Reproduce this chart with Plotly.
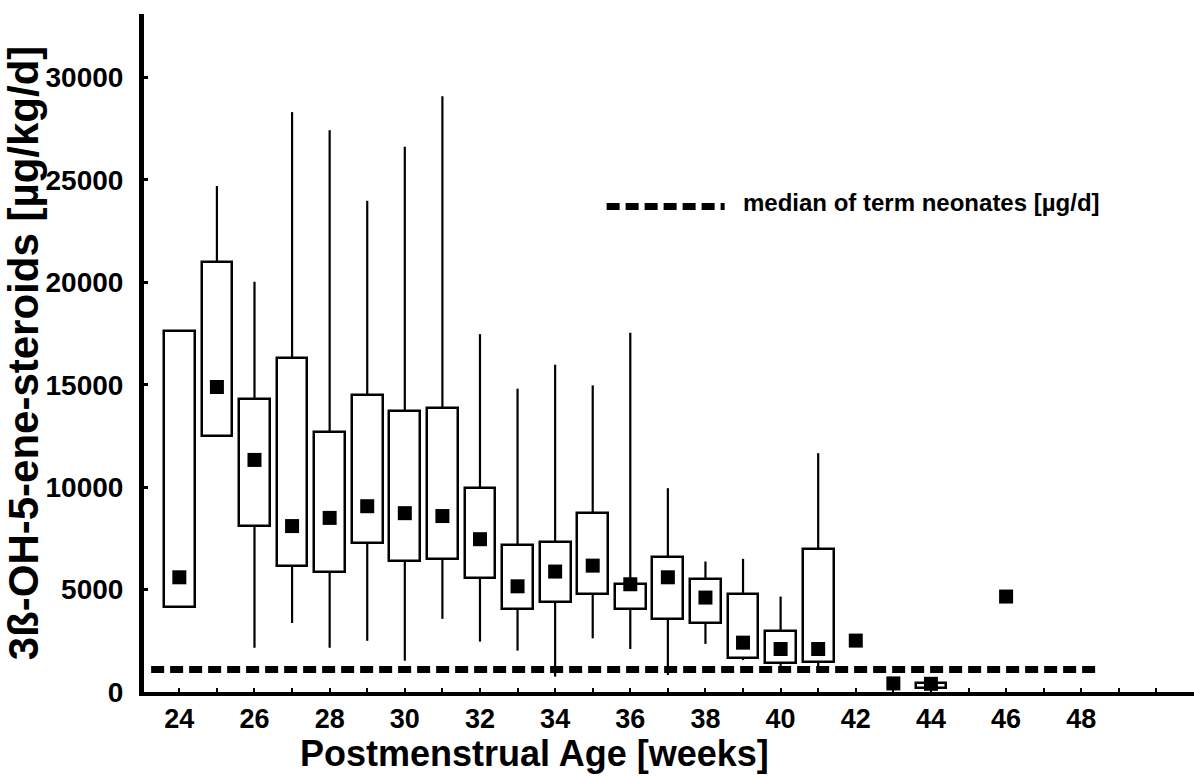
import plotly.graph_objects as go

# Postmenstrual age (weeks) for which a box (25th-75th percentile) is drawn
box_weeks = [24, 25, 26, 27, 28, 29, 30, 31, 32, 33, 34, 35, 36, 37, 38, 39, 40, 41, 44]
q1 = [4150, 12500, 8080, 6170, 5870, 7280, 6410, 6510, 5580, 4050, 4380, 4770, 4060, 3550, 3390, 1650, 1400, 1480, 200]
q3 = [17630, 21000, 14290, 16300, 12700, 14510, 13720, 13860, 9940, 7160, 7320, 8760, 5280, 6580, 5540, 4770, 2980, 6970, 430]
whisker_low = [None, None, 2160, 3370, 2160, 2500, 1530, 3570, 2460, 2020, 750, 2620, 2100, 830, 2350, 1560, 1270, 1080, None]
whisker_high = [None, 24700, 20030, 28310, 27420, 23980, 26620, 29090, 17470, 14810, 15980, 14970, 17540, 9950, 6370, 6500, 4660, 11660, None]

# Medians (filled squares)
median_weeks = [24, 25, 26, 27, 28, 29, 30, 31, 32, 33, 34, 35, 36, 37, 38, 39, 40, 41, 42, 43, 44, 46]
medians = [5600, 14890, 11330, 8100, 8500, 9070, 8730, 8590, 7460, 5160, 5880, 6170, 5260, 5600, 4610, 2410, 2100, 2100, 2510, 420, 400, 4660]

# Median of term neonates (reference line)
term_median = 1100
term_span = [23.25, 48.5]
legend_label = "median of term neonates [µg/d]"

x_tick_vals = list(range(24, 49, 2))
y_tick_vals = [0, 5000, 10000, 15000, 20000, 25000, 30000]

FONT = "Liberation Sans, Arial, sans-serif"
DASH = "13px,6px"

fig = go.Figure()

# whisker segments
wx, wy = [], []
for w, lo, hi, a, b in zip(box_weeks, whisker_low, whisker_high, q1, q3):
    if lo is not None:
        wx += [w, w, None]
        wy += [lo, a, None]
    if hi is not None:
        wx += [w, w, None]
        wy += [b, hi, None]
fig.add_trace(go.Scatter(x=wx, y=wy, mode="lines", line=dict(color="black", width=2.2),
                         hoverinfo="skip", showlegend=False))

# interquartile boxes
fig.add_trace(go.Bar(x=box_weeks, base=q1, y=[b - a for a, b in zip(q1, q3)], width=0.82,
                     marker=dict(color="white", line=dict(color="black", width=2.5)),
                     showlegend=False))

# reference line of term neonates
fig.add_trace(go.Scatter(x=term_span, y=[term_median, term_median], mode="lines",
                         line=dict(color="black", width=7, dash=DASH), showlegend=False))

# medians
fig.add_trace(go.Scatter(x=median_weeks, y=medians, mode="markers",
                         marker=dict(symbol="square", size=14, color="black"),
                         showlegend=False))

# legend sample
fig.add_trace(go.Scatter(x=[35.37, 38.51], y=[23700, 23700], mode="lines",
                         line=dict(color="black", width=7, dash=DASH), showlegend=False))
fig.add_annotation(x=38.95, y=23900, text=f"<b>{legend_label}</b>", showarrow=False,
                   xanchor="left", yanchor="middle", font=dict(family=FONT, size=24, color="black"))

# x-axis title
fig.add_annotation(x=0.372, y=-0.123, xref="paper", yref="paper", yanchor="bottom",
                   text="<b>Postmenstrual Age [weeks]</b>", showarrow=False, borderpad=0,
                   font=dict(family=FONT, size=36, color="black"))

fig.update_layout(
    width=1194, height=776,
    margin=dict(l=144, r=0, t=14, b=84),
    paper_bgcolor="white", plot_bgcolor="white",
    bargap=0,
    font=dict(family=FONT, color="black"),
    xaxis=dict(range=[23.06, 51.0], tickvals=x_tick_vals, ticktext=[f"<b>{v}</b>" for v in x_tick_vals],
               ticks="inside", ticklen=4, tickwidth=2, tickcolor="black",
               minor=dict(dtick=1, tick0=0, ticks="inside", ticklen=4, tickwidth=2, tickcolor="black"),
               showline=True, linecolor="black", linewidth=4, showgrid=False, zeroline=False,
               tickfont=dict(family=FONT, size=27, color="black"), ticklabelstandoff=0),
    yaxis=dict(range=[0, 33100], tickvals=y_tick_vals, ticktext=[f"<b>{v}</b>" for v in y_tick_vals],
               ticks="inside", ticklen=4, tickwidth=3, tickcolor="black",
               showline=True, linecolor="black", linewidth=5, showgrid=False, zeroline=False,
               tickfont=dict(family=FONT, size=28, color="black"), ticklabelstandoff=10,
               title=dict(text="<b>3ß-OH-5-ene-steroids [µg/kg/d]</b>", standoff=10,
                          font=dict(family=FONT, size=42, color="black"))),
)

fig.write_html("out.html")
